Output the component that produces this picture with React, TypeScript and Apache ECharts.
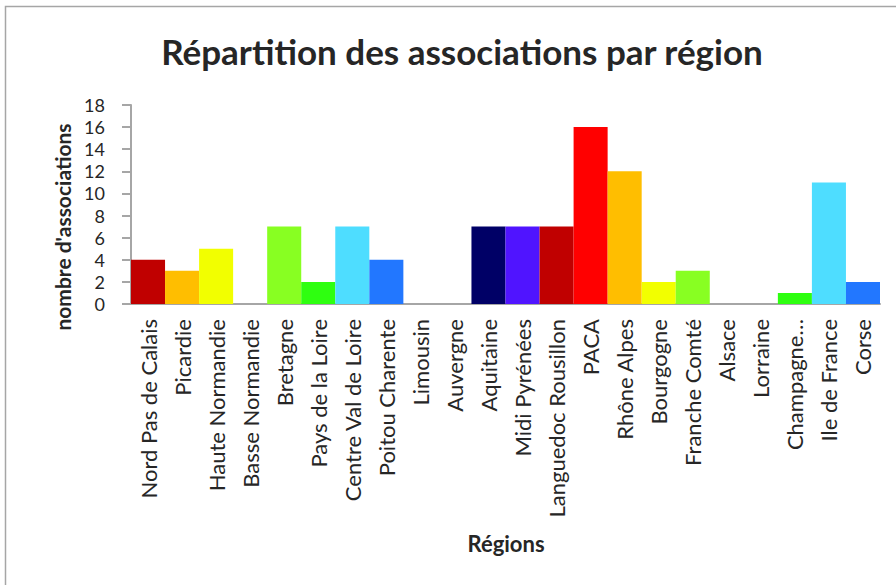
import React, { useEffect, useRef } from "react";
import * as echarts from "echarts";

const regions = [
  "Nord Pas de Calais",
  "Picardie",
  "Haute Normandie",
  "Basse Normandie",
  "Bretagne",
  "Pays de la Loire",
  "Centre Val de Loire",
  "Poitou Charente",
  "Limousin",
  "Auvergne",
  "Aquitaine",
  "Midi Pyrénées",
  "Languedoc Rousillon",
  "PACA",
  "Rhône Alpes",
  "Bourgogne",
  "Franche Comté",
  "Alsace",
  "Lorraine",
  "Champagne…",
  "Ile de France",
  "Corse",
];

const counts = [4, 3, 5, 0, 7, 2, 7, 4, 0, 0, 7, 7, 7, 16, 12, 2, 3, 0, 0, 1, 11, 2];

const barColors = [
  "#C00000",
  "#FFBE00",
  "#F2FF00",
  "#FFFFFF",
  "#88FF22",
  "#2EFF10",
  "#4EDDFF",
  "#2277FF",
  "#FFFFFF",
  "#FFFFFF",
  "#000066",
  "#5014FF",
  "#C00000",
  "#FF0000",
  "#FFBE00",
  "#F2FF00",
  "#88FF22",
  "#FFFFFF",
  "#FFFFFF",
  "#2EFF10",
  "#4EDDFF",
  "#2277FF",
];

const yTicks = [0, 2, 4, 6, 8, 10, 12, 14, 16, 18];

const FONT = "Lato, 'Open Sans', sans-serif";

export default function App() {
  const ref = useRef<HTMLDivElement>(null);

  useEffect(() => {
    if (!ref.current) return;
    const chart = echarts.init(ref.current, undefined, { renderer: "svg" });
    chart.setOption({
      animation: false,
      backgroundColor: "#FFFFFF",
      textStyle: { fontFamily: FONT },
      title: {
        text: "Répartition des associations par région",
        left: 457,
        top: 28,
        textAlign: "center",
        textStyle: {
          fontFamily: FONT,
          fontSize: 35,
          fontWeight: "bold",
          color: "#262626",
        },
      },
      grid: { left: 131, right: 16, top: 105, bottom: 281, containLabel: false },
      xAxis: {
        type: "category",
        data: regions,
        axisLine: { lineStyle: { color: "#A6A6A6", width: 2 } },
        axisTick: { show: false },
        axisLabel: {
          rotate: 90,
          interval: 0,
          margin: 15,
          fontSize: 22,
          color: "#262626",
          fontFamily: FONT,
        },
      },
      yAxis: {
        type: "value",
        min: yTicks[0],
        max: yTicks[yTicks.length - 1],
        interval: 2,
        splitLine: { show: false },
        axisLine: { show: true, lineStyle: { color: "#A6A6A6", width: 2 } },
        axisTick: { show: true, length: 9, lineStyle: { color: "#A6A6A6", width: 2 } },
        axisLabel: {
          margin: 26,
          fontSize: 18,
          lineHeight: 18,
          color: "#262626",
          fontFamily: FONT,
        },
      },
      series: [
        {
          type: "bar",
          data: counts.map((v, i) => ({ value: v, itemStyle: { color: barColors[i] } })),
          barCategoryGap: "0%",
        },
      ],
      graphic: [
        {
          type: "rect",
          shape: { x: 5.5, y: 6.5, width: 1000, height: 1000 },
          style: { fill: "none", stroke: "#A6A6A6", lineWidth: 1.5 },
          silent: true,
        },
        {
          type: "text",
          x: 62,
          y: 227,
          rotation: Math.PI / 2,
          style: {
            text: "nombre d'associations",
            fontFamily: FONT,
            fontSize: 21,
            fontWeight: "bold",
            fill: "#262626",
            align: "center",
            verticalAlign: "middle",
          },
        },
        {
          type: "text",
          x: 506,
          y: 543,
          style: {
            text: "Régions",
            fontFamily: FONT,
            fontSize: 22,
            fontWeight: "bold",
            fill: "#262626",
            align: "center",
            verticalAlign: "middle",
          },
        },
      ],
    });
    return () => chart.dispose();
  }, []);

  return (
    <div
      ref={ref}
      style={{ position: "fixed", left: 0, top: 0, width: 896, height: 585 }}
    />
  );
}
